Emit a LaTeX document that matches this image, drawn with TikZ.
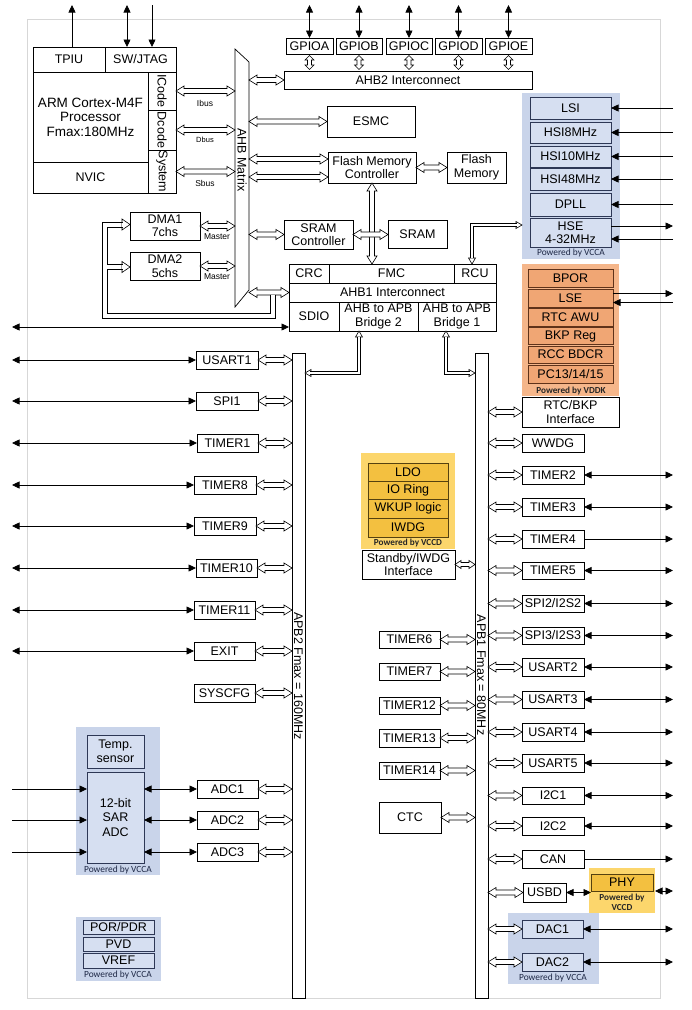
% GD32-style MCU block diagram, revision 6
\documentclass[tikz,border=0pt]{standalone}
\usepackage{fontspec}
\setmainfont{Liberation Sans}
\newfontfamily\calf{Carlito}
\usetikzlibrary{arrows.meta,calc}
\definecolor{bbg}{RGB}{201,212,234}
\definecolor{bbox}{RGB}{214,223,241}
\definecolor{bbd}{RGB}{45,55,85}
\definecolor{obg}{RGB}{245,182,138}
\definecolor{obox}{RGB}{240,166,116}
\definecolor{obd}{RGB}{95,50,25}
\definecolor{ybg}{RGB}{252,214,108}
\definecolor{ybox}{RGB}{243,192,64}
\definecolor{ybd}{RGB}{85,65,15}
\definecolor{frm}{RGB}{215,215,215}
\definecolor{pwtxt}{RGB}{30,40,70}
\newcommand\mf{\fontsize{12.5}{13.5}\selectfont}
\newcommand\bx[7][]{\pgfmathsetmacro\bxw{#5-#3}\pgfmathsetmacro\bxh{#6-#4}%
  \node[box,#1,minimum width=\bxw pt,minimum height=\bxh pt] (#2) at ({(#3+#5)/2},{(#4+#6)/2}) {#7};}
\newcommand\fa[3][fat]{\draw[#1] let \p1=#2,\p2=#3,\n1={atan2(\y2-\y1,\x2-\x1)} in
 (\p1) -- ($(\p1)+(\n1:\fH)+({\n1+90}:\fW)$) -- ($(\p1)+(\n1:\fH)+({\n1+90}:\fS)$)
 -- ($(\p2)+({\n1+180}:\fH)+({\n1+90}:\fS)$) -- ($(\p2)+({\n1+180}:\fH)+({\n1+90}:\fW)$)
 -- (\p2) -- ($(\p2)+({\n1+180}:\fH)+({\n1-90}:\fW)$) -- ($(\p2)+({\n1+180}:\fH)+({\n1-90}:\fS)$)
 -- ($(\p1)+(\n1:\fH)+({\n1-90}:\fS)$) -- ($(\p1)+(\n1:\fH)+({\n1-90}:\fW)$) -- cycle;}
\begin{document}
\begin{tikzpicture}[x=1pt,y=-1pt,
  box/.style={draw,line width=0.7pt,fill=white,inner sep=0pt,outer sep=0pt,align=center,font=\mf},
  blu/.style={fill=bbox,draw=bbd},
  org/.style={fill=obox,draw=obd},
  yel/.style={fill=ybox,draw=ybd},
  ar/.style={line width=0.7pt,-{Triangle[length=7.5pt,width=7pt]}},
  arr/.style={line width=0.7pt,{Triangle[length=7.5pt,width=7pt]}-{Triangle[length=7.5pt,width=7pt]}},
  fatgeo/.code n args={3}{\def\fH{#1}\def\fW{#2}\def\fS{#3}},
  fat/.style={fatgeo={8pt}{5pt}{2.5pt},draw,fill=white,line width=0.6pt},
  gfat/.style={fatgeo={4.5pt}{4.5pt}{2pt},draw,fill=white,line width=0.6pt},
  mfat/.style={fatgeo={6pt}{4pt}{2pt},draw,fill=white,line width=0.6pt},
  dbls/.style={draw,double=white,double distance=2.4pt,line width=0.6pt},
  strand/.style={draw,line width=0.6pt},
  gap/.style={draw=white,line width=1pt},
  oheads/.pic={\draw[fill=white,line width=0.6pt] (0pt,0pt) -- (-6pt,3.5pt) -- (-6pt,-3.5pt) -- cycle;},
  lab/.style={font=\fontsize{8.5}{9}\selectfont,inner sep=0pt},
  pwa/.style={font=\calf\fontsize{9.4}{10.5}\selectfont,text=pwtxt,inner sep=0pt,align=center},
  pwb/.style={font=\calf\bfseries\fontsize{9.2}{10.5}\selectfont,text=black!85,inner sep=0pt,align=center},
  rot/.style={rotate=-90,font=\mf,inner sep=0pt}]
\useasboundingbox (0,0) rectangle (692,1010);
\draw[frm,line width=0.8pt] (27,19) rectangle (660,998);
\coordinate (top) at (0,5);
\coordinate (lft) at (12,0);
\coordinate (rgt) at (673,0);

% coloured backgrounds
\fill[bbg] (522,93) rectangle (620,259);
\fill[obg] (522,264) rectangle (619,396);
\fill[ybg] (361,453) rectangle (455,549);
\fill[bbg] (76,727) rectangle (160,875);
\fill[bbg] (76,917) rectangle (161,981);
\fill[ybg] (589,868) rectangle (655,913);
\fill[bbg] (508,913) rectangle (599,984);
\node[pwa] at (571,253) {Powered by VCCA};
\node[pwb] at (571,391) {Powered by VDDK};
\node[pwb] at (408,543) {Powered by VCCD};
\node[pwa] at (118,870) {Powered by VCCA};
\node[pwa] at (118,975) {Powered by VCCA};
\node[pwb] at (622,902.5) {Powered by\\VCCD};
\node[pwa] at (553,978) {Powered by VCCA};

% CPU
\bx{tpiu}{33}{47}{105}{72}{TPIU}
\bx{jtag}{105}{47}{176}{72}{SW/JTAG}
\bx[font=\fontsize{13.5}{14.5}\selectfont]{cpu}{33}{72}{148}{162}{ARM Cortex-M4F\\Processor\\Fmax:180MHz}
\bx{nvic}{33}{162}{148}{193}{NVIC}
\bx{icode}{148}{72}{176}{110}{}
\bx{dcode}{148}{110}{176}{150}{}
\bx{sysb}{148}{150}{176}{193}{}
\node[rot] at (icode.center) {ICode};
\node[rot] at (dcode.center) {Dcode};
\node[rot] at (sysb.center) {System};
\coordinate (t1) at ($(tpiu.north)+(3,0)$);
\draw[ar] (t1) -- (t1 |- top);
\coordinate (j1) at ($(jtag.north)+(-13.5,0)$);
\coordinate (j2) at ($(jtag.north)+(11.5,0)$);
\draw[arr] (j1) -- (j1 |- top);
\draw[ar] (j2 |- top) -- (j2);

% AHB matrix
\draw[line width=0.7pt,fill=white] (235,49) -- (249,62) -- (249,290) -- (235,307) -- cycle;
\node[inner sep=0pt,outer sep=0pt,minimum width=14pt,minimum height=258pt] (mx) at (242,178) {};
\node[rot] at (242,160) {AHB Matrix};

\fa{(icode.east)}{(icode.east -| mx.west)}
\fa{(dcode.east)}{(dcode.east -| mx.west)}
\fa{(sysb.east)}{(sysb.east -| mx.west)}
\node[lab] at (205,103) {Ibus};
\node[lab,font=\fontsize{7.5}{8}\selectfont] at (205,140) {Dbus};
\node[lab] at (205,183) {Sbus};

% DMA
\bx{dma1}{130}{212}{200}{240}{DMA1\\7chs}
\bx{dma2}{130}{252}{200}{280}{DMA2\\5chs}
\fa{(dma1.east)}{(dma1.east -| mx.west)}
\fa{(dma2.east)}{(dma2.east -| mx.west)}
\node[lab] at (217,237) {Master};
\node[lab] at (217,277) {Master};

% GPIO + AHB2
\bx{ga}{286}{38}{333}{54}{GPIOA}
\bx{gb}{336}{38}{382}{54}{GPIOB}
\bx{gc}{386}{38}{432}{54}{GPIOC}
\bx{gd}{435}{38}{482}{54}{GPIOD}
\bx{ge}{485}{38}{532}{54}{GPIOE}
\bx{ahb2}{284}{71}{532}{89}{AHB2 Interconnect}
\foreach \q in {ga,gb,gc,gd,ge}{
  \draw[arr] (\q.north) -- (\q.north |- top);
  \fa[gfat]{($(\q.south)+(0,1.5)$)}{($(\q.south |- ahb2.north)+(0,-1.5)$)}
}
\fa{(ahb2.west -| mx.east)}{(ahb2.west)}

% memories
\bx{esmc}{327}{106}{415}{137}{ESMC}
\bx{fmc}{328}{152}{416}{183}{Flash Memory\\Controller}
\bx{flash}{447}{152}{506}{183}{Flash\\Memory}
\bx{sramc}{284}{220}{353}{249}{SRAM\\Controller}
\bx{sram}{388}{220}{447}{248}{SRAM}
\fa{(esmc.west -| mx.east)}{(esmc.west)}
\coordinate (f1) at ($(fmc.west)+(0,-8.5)$);
\coordinate (f2) at ($(fmc.west)+(0,9.5)$);
\fa{(f1 -| mx.east)}{(f1)}
\fa{(f2 -| mx.east)}{(f2)}
\fa{(fmc.east)}{(flash.west)}
\fa{(sramc.west -| mx.east)}{(sramc.west)}

% AHB1 block
\bx{crc}{289}{264}{329}{283}{CRC}
\bx{fmcb}{329}{264}{454}{283}{FMC}
\bx{rcu}{454}{264}{496}{283}{RCU}
\bx{ahb1}{289}{283}{496}{302}{AHB1 Interconnect}
\bx{sdio}{289}{302}{339}{331}{SDIO}
\bx{br2}{339}{302}{418}{331}{AHB to APB\\Bridge 2}
\bx{br1}{418}{302}{496}{331}{AHB to APB\\Bridge 1}
\fa{(fmc.south)}{(fmc.south |- fmcb.north)}
\fa{(sramc.east)}{(sramc.east -| sram.west)}
\fa{(ahb1.west -| mx.east)}{(ahb1.west)}
\coordinate (sd) at ($(sdio.south west)+(0,-4)$);
\draw[arr] (lft |- sd) -- (sd);

% clocks
\bx[blu]{lsi}{530}{97}{611}{119}{LSI}
\bx[blu]{hsia}{530}{122}{611}{143}{HSI8MHz}
\bx[blu]{hsib}{530}{146}{611}{167}{HSI10MHz}
\bx[blu]{hsic}{530}{168}{611}{190}{HSI48MHz}
\bx[blu]{dpll}{530}{193}{611}{216}{DPLL}
\bx[blu]{hse}{530}{218}{611}{247}{HSE\\4-32MHz}
\foreach \q in {lsi,hsia,hsib,hsic,dpll}{\draw[ar] (rgt |- \q.east) -- (\q.east);}
\coordinate (h1) at ($(hse.east)+(0,-6.5)$);
\coordinate (h2) at ($(hse.east)+(0,6.5)$);
\draw[ar] (h1) -- (rgt |- h1);
\draw[ar] (rgt |- h2) -- (h2);

% RCU to HSE
\pic[rotate=-90] at (472,264) {oheads};
\pic at (522,225) {oheads};
\draw[dbls] (472,258.4) -- (472,225) -- (516.6,225);

% backup domain
\bx[org]{bpor}{528}{269}{613}{287}{BPOR}
\bx[org]{lse}{528}{289}{613}{307}{LSE}
\bx[org]{awu}{528}{308.5}{613}{326}{RTC AWU}
\bx[org]{bkp}{528}{327.5}{613}{344.5}{BKP Reg}
\bx[org]{bdcr}{528}{346}{613}{363}{RCC BDCR}
\bx[org]{pcx}{528}{365}{613}{383}{PC13/14/15}
\coordinate (l1) at ($(lse.east)+(0,-4.5)$);
\coordinate (l2) at ($(lse.east)+(0,4.5)$);
\draw[ar] (l1) -- (rgt |- l1);
\draw[ar] (rgt |- l2) -- (l2);
\bx{rtcif}{522}{397}{619}{427}{RTC/BKP\\Interface}

% APB buses
\bx{apb2}{292}{353}{305}{998}{}
\bx{apb1}{475}{353}{488}{998}{}
\node[rot] at (298.5,676) {APB2 Fmax = 160MHz};
\node[rot] at (481.5,675) {APB1 Fmax = 80MHz};

% bridges to buses
\pic[rotate=90] at (359,331) {oheads};
\pic[rotate=180] at (apb2.east |- 0,373) {oheads};
\draw[dbls] (359,336.6) -- (359,373) -- (310.4,373);
\pic[rotate=90] at (446,331) {oheads};
\pic at (apb1.west |- 0,373) {oheads};
\draw[dbls] (446,336.6) -- (446,373) -- (469.6,373);

% APB2 peripherals
\bx{usart1}{196}{351}{258}{369}{USART1}
\bx{spi1}{196}{392}{258}{410}{SPI1}
\bx{tim1}{197}{434}{258}{452}{TIMER1}
\bx{tim8}{194}{476}{256}{494}{TIMER8}
\bx{tim9}{194}{517}{256}{535}{TIMER9}
\bx{tim10}{196}{559}{257}{577}{TIMER10}
\bx{tim11}{194}{601}{255}{619}{TIMER11}
\bx{exit}{194}{642}{255}{660}{EXIT}
\bx{syscfg}{194}{684}{255}{702}{SYSCFG}
\foreach \q in {usart1,spi1,tim1,tim8,tim9,tim10,tim11,exit}{\draw[arr] (lft |- \q.west) -- (\q.west);}

% ADC
\bx[blu]{temp}{87}{735}{144}{768}{Temp.\\sensor}
\bx[blu,font=\fontsize{12.5}{14.5}\selectfont]{sar}{87}{772}{144}{863}{12-bit\\SAR\\ADC}
\bx{adc1}{197}{780}{258}{798}{ADC1}
\bx{adc2}{197}{811}{258}{829}{ADC2}
\bx{adc3}{197}{843}{258}{861}{ADC3}
\foreach \q in {adc1,adc2,adc3}{
  \draw[arr] (sar.east |- \q.west) -- (\q.west);
  \draw[ar] (lft |- \q.west) -- (sar.west |- \q.west);
}
\foreach \q in {usart1,spi1,tim1,tim8,tim9,tim10,tim11,exit,syscfg,adc1,adc2,adc3}{
  \fa{(\q.east)}{(\q.east -| apb2.west)}
}

% power
\bx[blu]{por}{83}{920}{154}{934}{POR/PDR}
\bx[blu]{pvd}{83}{937}{154}{951}{PVD}
\bx[blu]{vref}{83}{953}{154}{968}{VREF}

% standby domain
\bx[yel]{ldo}{368}{463}{448}{481}{LDO}
\bx[yel]{ioring}{368}{481}{448}{499}{IO Ring}
\bx[yel]{wkup}{368}{499}{448}{518}{WKUP logic}
\bx[yel]{iwdg}{368}{518}{448}{537}{IWDG}
\bx{stby}{362}{550}{455}{579}{Standby/IWDG\\Interface}
\fa[mfat]{(stby.east)}{(stby.east -| apb1.west)}

% APB1 left
\bx{tim6}{379}{631}{440}{648}{TIMER6}
\bx{tim7}{379}{663}{440}{680}{TIMER7}
\bx{tim12}{379}{697}{440}{714}{TIMER12}
\bx{tim13}{379}{729}{440}{747}{TIMER13}
\bx{tim14}{379}{762}{440}{779}{TIMER14}
\bx{ctc}{379}{802}{441}{833}{CTC}
\foreach \q in {tim6,tim7,tim12,tim13,tim14,ctc}{\fa{(\q.east)}{(\q.east -| apb1.west)}}

% APB1 right
\bx{wwdg}{522}{434}{584}{452}{WWDG}
\bx{tim2}{522}{466}{584}{484}{TIMER2}
\bx{tim3}{522}{498}{584}{516}{TIMER3}
\bx{tim4}{522}{530}{584}{548}{TIMER4}
\bx{tim5}{522}{562}{584}{579}{TIMER5}
\bx{spi2}{522}{595}{584}{612}{SPI2/I2S2}
\bx{spi3}{522}{627}{584}{644}{SPI3/I2S3}
\bx{usart2}{522}{658}{584}{676}{USART2}
\bx{usart3}{522}{691}{584}{708}{USART3}
\bx{usart4}{522}{723}{584}{741}{USART4}
\bx{usart5}{522}{754}{584}{772}{USART5}
\bx{ictwoa}{522}{787}{584}{804}{I2C1}
\bx{ictwob}{522}{817}{584}{835}{I2C2}
\bx{can}{522}{850}{584}{868}{CAN}
\bx{usbd}{523}{883}{566}{902}{USBD}
\bx[yel]{phy}{591}{874}{653}{891}{PHY}
\bx[blu]{daca}{522}{920}{583}{938}{DAC1}
\bx[blu]{dacb}{522}{953}{583}{971}{DAC2}
\foreach \q in {rtcif,wwdg,tim2,tim3,tim4,tim5,spi2,spi3,usart2,usart3,usart4,usart5,ictwoa,ictwob,can,usbd,daca,dacb}{
  \fa{(\q.west -| apb1.east)}{(\q.west)}
}
\foreach \q in {tim2,tim3,tim5,spi2,spi3,usart2,usart3,usart4,usart5,ictwoa,ictwob,daca,dacb}{
  \draw[arr] (\q.east) -- (rgt |- \q.east);
}
\draw[ar] (tim4.east) -- (rgt |- tim4.east);
\draw[ar] (can.east) -- (rgt |- can.east);
\draw[arr] (usbd.east) -- (phy.west |- usbd.east);
\coordinate (pe) at ($(phy.south east)+(2,0)$);
\draw[arr] (pe) -- (rgt |- pe);

% loop from the AHB1 arrow back to the two DMA controllers
\coordinate (da) at (130,224.5);
\coordinate (db) at (130,267);
\draw[line width=0.6pt,fill=white] (da) -- (122,219) -- (122,230) -- cycle;
\draw[line width=0.6pt,fill=white] (db) -- (122,261.5) -- (122,272.5) -- cycle;
\draw[gap] (270.4,295) -- (274.6,295);
\draw[strand] (275,294.6) -- (275,318) -- (102,318) -- (102,222) -- (122.5,222);
\draw[strand] (270,294.6) -- (270,313) -- (107,313) -- (107,269.5) -- (122.5,269.5);
\draw[strand] (122.5,264.5) -- (107,264.5) -- (107,227) -- (122.5,227);
\draw[gap] (122,222.5) -- (122,226.5);
\draw[gap] (122,265) -- (122,269);
\end{tikzpicture}
\end{document}
